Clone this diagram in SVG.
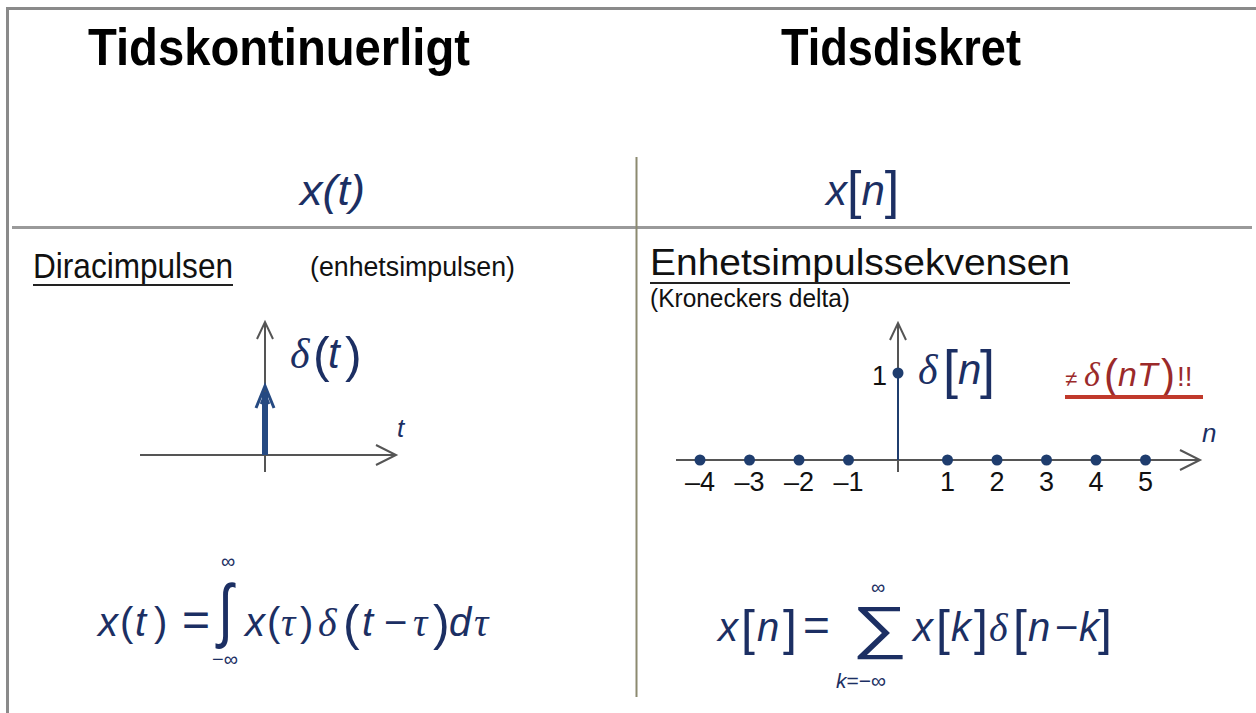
<svg xmlns="http://www.w3.org/2000/svg" width="1256" height="713" viewBox="0 0 1256 713">
<style>
.title{font-family:"Liberation Sans",Arial,sans-serif;font-weight:bold;font-size:52px;fill:#000}
.lbl{font-family:"Liberation Sans",Arial,sans-serif;fill:#111}
.m{font-family:"Liberation Sans",Arial,sans-serif;font-style:italic;fill:#1c2f63}
.g{font-family:"Liberation Serif","Times New Roman",serif;font-style:italic;fill:#1c2f63}
.p{font-family:"Liberation Sans",Arial,sans-serif;fill:#1c2f63;font-weight:normal}
.ax{stroke:#555;stroke-width:2;fill:none}
.dot{fill:#1f3d6e}
.num{font-family:"Liberation Sans",Arial,sans-serif;font-size:27px;fill:#111}
</style>
<rect width="1256" height="713" fill="#fff"/>
<g id="frame">
<line x1="6" y1="8.5" x2="1256" y2="8.5" stroke="#8a8a8a" stroke-width="3"/>
<line x1="7.5" y1="7" x2="7.5" y2="713" stroke="#8a8a8a" stroke-width="3"/>
<line x1="12" y1="227.5" x2="1252" y2="227.5" stroke="#9a9a9a" stroke-width="3"/>
<line x1="636.5" y1="157" x2="636.5" y2="697" stroke="#8c8a70" stroke-width="2"/>
</g>
<g id="title-left"><text class="title" x="88" y="65" textLength="382" lengthAdjust="spacingAndGlyphs">Tidskontinuerligt</text></g>
<g id="title-right"><text class="title" x="781" y="65" textLength="240" lengthAdjust="spacingAndGlyphs">Tidsdiskret</text></g>
<g id="xt"><text class="m" x="300" y="205" font-size="42" textLength="65" lengthAdjust="spacingAndGlyphs">x(t)</text></g>
<g id="xn"><text x="826" y="205" font-size="42"><tspan class="m">x</tspan><tspan class="p" font-size="52" dy="3">[</tspan><tspan class="m" dy="-3">n</tspan><tspan class="p" font-size="52" dy="3">]</tspan></text></g>
<g id="dirac-heading">
<text class="lbl" x="33" y="278" font-size="35" textLength="200" lengthAdjust="spacingAndGlyphs">Diracimpulsen</text>
<line x1="33" y1="285" x2="233" y2="285" stroke="#222" stroke-width="2"/>
<text class="lbl" x="310" y="276" font-size="27" textLength="205" lengthAdjust="spacingAndGlyphs">(enhetsimpulsen)</text>
</g>
<g id="enhet-heading">
<text class="lbl" x="650" y="275" font-size="36" textLength="420" lengthAdjust="spacingAndGlyphs">Enhetsimpulssekvensen</text>
<line x1="650" y1="283" x2="1070" y2="283" stroke="#222" stroke-width="2"/>
<text class="lbl" x="650" y="307" font-size="25" textLength="200" lengthAdjust="spacingAndGlyphs">(Kroneckers delta)</text>
</g>
<g id="plot-left">
<line class="ax" x1="140" y1="455" x2="396" y2="455"/>
<polyline class="ax" points="376,445 396,455 376,465"/>
<line class="ax" x1="265" y1="472" x2="265" y2="322"/>
<polyline class="ax" points="257,339 265,322 273,339"/>
<line x1="265" y1="455" x2="265" y2="392" stroke="#264a82" stroke-width="6"/>
<polyline points="256,408 265,386 274,408" fill="none" stroke="#264a82" stroke-width="3"/>
<polyline points="261,404 265,394 269,404" fill="none" stroke="#264a82" stroke-width="2.5"/>
<text x="290" y="368" font-size="42"><tspan class="g">δ</tspan><tspan class="p" font-size="50" x="313" dy="4">(</tspan><tspan class="m" x="328" dy="-4">t</tspan><tspan class="p" font-size="50" x="345" dy="4">)</tspan></text>
<text class="m" x="397" y="437" font-size="26">t</text>
</g>
<g id="plot-right">
<line class="ax" x1="676" y1="460" x2="1200" y2="460"/>
<polyline class="ax" points="1180,450 1200,460 1180,470"/>
<line class="ax" x1="898" y1="472" x2="898" y2="323"/>
<polyline class="ax" points="890,340 898,323 906,340"/>
<line x1="898" y1="460" x2="898" y2="373" stroke="#1f3d6e" stroke-width="2"/>
<circle class="dot" cx="898" cy="373" r="5.5"/>
<circle class="dot" cx="700" cy="460" r="5.5"/>
<circle class="dot" cx="749.5" cy="460" r="5.5"/>
<circle class="dot" cx="799" cy="460" r="5.5"/>
<circle class="dot" cx="848.5" cy="460" r="5.5"/>
<circle class="dot" cx="947.5" cy="460" r="5.5"/>
<circle class="dot" cx="997" cy="460" r="5.5"/>
<circle class="dot" cx="1046.5" cy="460" r="5.5"/>
<circle class="dot" cx="1096" cy="460" r="5.5"/>
<circle class="dot" cx="1145.5" cy="460" r="5.5"/>
<text class="num" x="700" y="491" text-anchor="middle">–4</text>
<text class="num" x="749.5" y="491" text-anchor="middle">–3</text>
<text class="num" x="799" y="491" text-anchor="middle">–2</text>
<text class="num" x="848.5" y="491" text-anchor="middle">–1</text>
<text class="num" x="947.5" y="491" text-anchor="middle">1</text>
<text class="num" x="997" y="491" text-anchor="middle">2</text>
<text class="num" x="1046.5" y="491" text-anchor="middle">3</text>
<text class="num" x="1096" y="491" text-anchor="middle">4</text>
<text class="num" x="1145.5" y="491" text-anchor="middle">5</text>
<text class="num" x="872" y="385">1</text>
<text x="918" y="384" font-size="42"><tspan class="g">δ</tspan><tspan class="p" font-size="54" x="943" dy="4">[</tspan><tspan class="m" x="958" dy="-4">n</tspan><tspan class="p" font-size="54" x="980" dy="4">]</tspan></text>
<text y="386" font-size="34" fill="#9b2a2a" font-family="Liberation Sans,Arial,sans-serif"><tspan x="1065" font-size="22">≠</tspan><tspan x="1084" font-family="Liberation Serif,serif" font-style="italic">δ</tspan><tspan x="1104" font-size="42" dy="3">(</tspan><tspan x="1118" font-style="italic" dy="-3">nT</tspan><tspan x="1161" font-size="42" dy="3">)</tspan><tspan x="1177" dy="-3" font-size="28">!!</tspan></text>
<line x1="1065" y1="397" x2="1203" y2="397" stroke="#c0392b" stroke-width="4"/>
<text class="m" x="1202" y="442" font-size="26">n</text>
</g>
<g id="formula-left">
<text y="636" font-size="40"><tspan class="m" x="98">x</tspan><tspan class="p" x="120">(</tspan><tspan class="m" x="135">t</tspan><tspan class="p" x="154">)</tspan><tspan class="p" x="182" font-size="48">=</tspan></text>
<text class="p" x="0" y="0" font-size="54" font-family="Liberation Serif,serif" transform="translate(218,634) scale(1,1.3)">∫</text>
<text class="p" x="221" y="568" font-size="20">∞</text>
<text class="p" x="212" y="666" font-size="20">−∞</text>
<text y="636" font-size="40"><tspan class="m" x="245">x</tspan><tspan class="p" x="267">(</tspan><tspan class="g" x="281">τ</tspan><tspan class="p" x="300">)</tspan><tspan class="g" x="318">δ</tspan><tspan class="p" font-size="50" x="343" dy="4">(</tspan><tspan class="m" x="362" dy="-4">t</tspan><tspan class="p" x="384">−</tspan><tspan class="g" x="413">τ</tspan><tspan class="p" font-size="50" x="433" dy="4">)</tspan><tspan class="m" x="449" dy="-4">d</tspan><tspan class="g" x="474">τ</tspan></text>
</g>
<g id="formula-right">
<text y="641" font-size="40"><tspan class="m" x="718">x</tspan><tspan class="p" font-size="50" x="741" dy="4">[</tspan><tspan class="m" x="757" dy="-4">n</tspan><tspan class="p" font-size="50" x="783" dy="4">]</tspan><tspan class="p" x="803" dy="-4" font-size="46">=</tspan></text>
<text class="p" x="852" y="647" font-size="58" font-family="Liberation Serif,serif" textLength="56" lengthAdjust="spacingAndGlyphs">∑</text>
<text class="p" x="871" y="594" font-size="20">∞</text>
<text x="836" y="688" font-size="21"><tspan class="m">k</tspan><tspan class="p">=−∞</tspan></text>
<text y="641" font-size="40"><tspan class="m" x="913">x</tspan><tspan class="p" font-size="50" x="936" dy="4">[</tspan><tspan class="m" x="951" dy="-4">k</tspan><tspan class="p" font-size="50" x="974" dy="4">]</tspan><tspan class="g" x="989" dy="-4">δ</tspan><tspan class="p" font-size="50" x="1013" dy="4">[</tspan><tspan class="m" x="1028" dy="-4">n</tspan><tspan class="p" x="1055">−</tspan><tspan class="m" x="1079">k</tspan><tspan class="p" font-size="50" x="1098" dy="4">]</tspan></text>
</g>
</svg>
